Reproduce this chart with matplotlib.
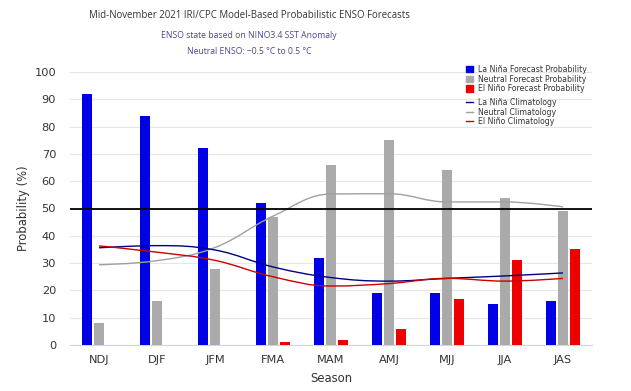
import numpy as np
import matplotlib
matplotlib.use("Agg")
from matplotlib import pyplot as plt
from matplotlib.path import Path
from matplotlib.patches import PathPatch, Patch
from matplotlib.lines import Line2D

# data
seasons = ['NDJ', 'DJF', 'JFM', 'FMA', 'MAM', 'AMJ', 'MJJ', 'JJA', 'JAS']
la_nina = [92, 84, 72, 52, 32, 19, 19, 15, 16]
neutral = [8, 16, 28, 47, 66, 75, 64, 54, 49]
el_nino = [0, 0, 0, 1, 2, 6, 17, 31, 35]
la_nina_clim = [35.6, 36.4, 34.8, 28.6, 24.7, 23.4, 24.4, 25.3, 26.4]
neutral_clim = [29.4, 30.9, 35.7, 47.2, 55.3, 55.4, 52.4, 52.4, 50.6]
el_nino_clim = [36.3, 34.0, 31.0, 25.0, 21.6, 22.5, 24.4, 23.4, 24.4]

BLUE = '#0000e6'
GRAY = '#aaaaaa'
RED = '#ee0000'


def spline_path(xs, ys, smoothing=1.5):
    # highcharts-like spline: bezier segments through each point
    denom = smoothing + 1
    n = len(xs)
    verts = [(xs[0], ys[0])]
    codes = [Path.MOVETO]
    conts = []
    for i in range(n):
        if i == 0 or i == n - 1:
            conts.append(((xs[i], ys[i]), (xs[i], ys[i])))
            continue
        lx = (smoothing * xs[i] + xs[i - 1]) / denom
        ly = (smoothing * ys[i] + ys[i - 1]) / denom
        rx = (smoothing * xs[i] + xs[i + 1]) / denom
        ry = (smoothing * ys[i] + ys[i + 1]) / denom
        corr = ((ry - ly) * (rx - xs[i])) / (rx - lx) + ys[i] - ry
        ly += corr
        ry += corr
        if ly > max(ys[i - 1], ys[i]):
            ly = max(ys[i - 1], ys[i]); ry = 2 * ys[i] - ly
        elif ly < min(ys[i - 1], ys[i]):
            ly = min(ys[i - 1], ys[i]); ry = 2 * ys[i] - ly
        if ry > max(ys[i + 1], ys[i]):
            ry = max(ys[i + 1], ys[i]); ly = 2 * ys[i] - ry
        elif ry < min(ys[i + 1], ys[i]):
            ry = min(ys[i + 1], ys[i]); ly = 2 * ys[i] - ry
        conts.append(((lx, ly), (rx, ry)))
    for i in range(1, n):
        verts += [conts[i - 1][1], conts[i][0], (xs[i], ys[i])]
        codes += [Path.CURVE4] * 3
    return Path(verts, codes)


fig = plt.figure(figsize=(6.31, 3.91), dpi=100)
ax = fig.add_axes([70 / 631, 46 / 391, 522 / 631, 273 / 391])

x = np.arange(len(seasons))
w = 0.175
off = 0.2
ax.bar(x - off, la_nina, w, color=BLUE, zorder=3)
ax.bar(x, neutral, w, color=GRAY, zorder=3)
ax.bar(x + off, el_nino, w, color=RED, zorder=3)

for vals, col in [(neutral_clim, '#a0a0a0'), (la_nina_clim, '#000080'), (el_nino_clim, '#cc0000')]:
    ax.add_patch(PathPatch(spline_path(list(x), vals), fill=False, edgecolor=col, lw=1.0, zorder=4))

ax.axhline(50, color='black', lw=1.3, zorder=5)

ax.set_xlim(-0.5, len(seasons) - 0.5)
ax.set_ylim(0, 100)
ax.set_yticks(range(0, 101, 10))
ax.set_xticks(x)
ax.set_xticklabels(seasons)
ax.grid(axis='y', color='#e6e6e6', lw=0.8, zorder=0)
ax.tick_params(axis='both', length=0, labelsize=8.2, colors='#333333', pad=7)
ax.tick_params(axis='y', pad=10)
for s in ['top', 'right', 'left']:
    ax.spines[s].set_visible(False)
ax.spines['bottom'].set_color('#ccd6eb')
ax.set_xlabel('Season', fontsize=8.4, color='#333333', labelpad=5)
ax.set_ylabel('Probability (%)', fontsize=8.4, color='#333333', labelpad=3)

fig.text(249 / 631, 1 - 16 / 391, 'Mid-November 2021 IRI/CPC Model-Based Probabilistic ENSO Forecasts',
         ha='center', va='center', fontsize=6.9, color='#333333', family='Open Sans')
fig.text(249 / 631, 1 - 36 / 391, 'ENSO state based on NINO3.4 SST Anomaly',
         ha='center', va='center', fontsize=6.2, color='#4a4a8c', family='Open Sans')
fig.text(249 / 631, 1 - 52 / 391, 'Neutral ENSO: \u22120.5 \u00b0C to 0.5 \u00b0C',
         ha='center', va='center', fontsize=6.2, color='#4a4a8c', family='Open Sans')

bar_handles = [Patch(color=BLUE), Patch(color=GRAY), Patch(color=RED)]
bar_labels = ['La Niña Forecast Probability', 'Neutral Forecast Probability', 'El Niño Forecast Probability']
line_handles = [Line2D([], [], color='#000080', lw=1), Line2D([], [], color='#a0a0a0', lw=1),
                Line2D([], [], color='#cc0000', lw=1)]
line_labels = ['La Niña Climatology', 'Neutral Climatology', 'El Niño Climatology']

leg1 = fig.legend(bar_handles, bar_labels, loc='upper left', bbox_to_anchor=(462 / 631, 1 - 61 / 391),
                  frameon=False, fontsize=5.6, handlelength=0.9, handleheight=0.9, handletextpad=0.6,
                  labelspacing=0.08, borderpad=0, labelcolor='#333333')
leg2 = fig.legend(line_handles, line_labels, loc='upper left', bbox_to_anchor=(462 / 631, 1 - 94 / 391),
                  frameon=False, fontsize=5.6, handlelength=0.9, handletextpad=0.6,
                  labelspacing=0.08, borderpad=0, labelcolor='#333333')

fig.savefig('out.png', dpi=100)
